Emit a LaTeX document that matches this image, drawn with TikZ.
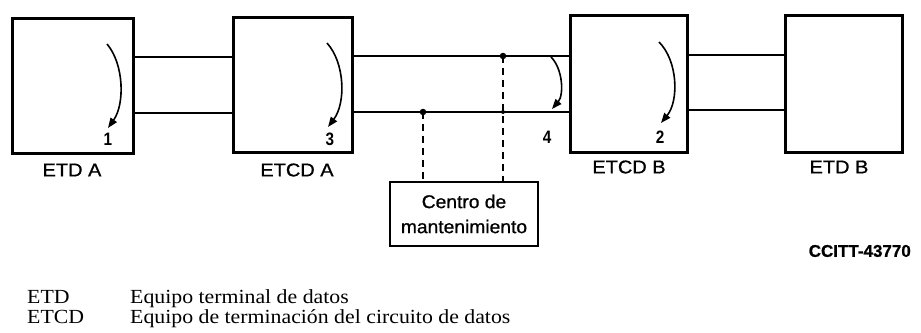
\documentclass[tikz,border=0pt]{standalone}
\usepackage{fontspec}
\setmainfont{Liberation Serif}
\newfontfamily\labfont[FakeBold=0.8]{Liberation Sans}
\newfontfamily\digfont{Liberation Sans}
\newfontfamily\legfont{Liberation Serif}
\usetikzlibrary{arrows.meta}
\newcommand{\widetext}[2]{\scalebox{#1}[1]{#2}}
\begin{document}
\begin{tikzpicture}[x=1pt,y=-1pt,
  unitbox/.style={draw, line width=3pt, inner sep=0pt, outer sep=0pt},
  wire/.style={line width=1.7pt},
  tap/.style={line width=1.4pt, dash pattern=on 7pt off 5pt},
  flow/.style={line width=1.6pt, -{Triangle[length=10pt,width=7.5pt]}},
  dotmark/.style={circle, fill=black, inner sep=0pt, minimum size=6.5pt},
  boxlabel/.style={font=\labfont\fontsize{18.5}{20}\selectfont, inner sep=0pt},
  digit/.style={font=\digfont\bfseries\fontsize{18}{19}\selectfont, inner sep=0pt},
  legend/.style={font=\legfont\fontsize{20}{21}\selectfont, inner sep=0pt, anchor=base west}]
\useasboundingbox (0,0) rectangle (921,332);

% boxes
\node[unitbox, minimum width=121pt, minimum height=135pt] (etda) at (72.5,85.5) {};
\node[unitbox, minimum width=119pt, minimum height=135pt] (etcda) at (292.5,84.5) {};
\node[unitbox, minimum width=117pt, minimum height=137pt] (etcdb) at (628.5,83.5) {};
\node[unitbox, minimum width=117pt, minimum height=137pt] (etdb) at (843.5,83.5) {};
\node[draw, line width=2.4pt, minimum width=148pt, minimum height=64pt, inner sep=0pt,
      align=center, font=\labfont\fontsize{18.5}{25}\selectfont] (centro) at (464,214)
      {\widetext{1.04}{Centro de}\\\widetext{1.04}{mantenimiento}};

% box labels
\node[boxlabel] (letda) at (72,170) {\widetext{1.08}{ETD A}};
\node[boxlabel] (letcda) at (297,170) {\widetext{1.08}{ETCD A}};
\node[boxlabel] (letcdb) at (629,167) {\widetext{1.08}{ETCD B}};
\node[boxlabel] (letdb) at (839,167) {\widetext{1.08}{ETD B}};

% wire levels
\coordinate (ya1) at (0,57);  \coordinate (ya2) at (0,113);
\coordinate (yb1) at (0,56);  \coordinate (yb2) at (0,112);
\coordinate (yc1) at (0,55);  \coordinate (yc2) at (0,110);

\draw[wire] (etda.east |- ya1) -- (etcda.west |- ya1);
\draw[wire] (etda.east |- ya2) -- (etcda.west |- ya2);
\draw[wire] (etcda.east |- yb1) -- (etcdb.west |- yb1);
\draw[wire] (etcda.east |- yb2) -- (etcdb.west |- yb2);
\draw[wire] (etcdb.east |- yc1) -- (etdb.west |- yc1);
\draw[wire] (etcdb.east |- yc2) -- (etdb.west |- yc2);

% taps to maintenance centre
\node[dotmark] (tapl) at (423,112) {};
\node[dotmark] (tapu) at (503,56) {};
\node[dotmark, minimum size=4pt] (tapx) at (503,112) {};
\draw[tap] (tapl.center) -- (tapl.center |- centro.north);
\draw[tap] (tapu.center) -- (tapu.center |- centro.north);

% loop arrows
\coordinate (a1s) at (107,44);  \coordinate (a1e) at (108,128);
\draw[flow] (a1s) .. controls (124,64) and (125,104) .. (a1e);
\coordinate (a3s) at (327,43);  \coordinate (a3e) at (328,127);
\draw[flow] (a3s) .. controls (345,63) and (346,103) .. (a3e);
\coordinate (a4s) at (551,57);  \coordinate (a4e) at (552,109);
\draw[flow] (a4s) .. controls (563,69) and (564,95) .. (a4e);
\coordinate (a2s) at (659,42);  \coordinate (a2e) at (661,123);
\draw[flow] (a2s) .. controls (678,61) and (679,101) .. (a2e);

\node[digit] (d1) at (108,139) {\widetext{0.85}{1}};
\node[digit] (d3) at (330,139) {\widetext{0.85}{3}};
\node[digit] (d4) at (547,137) {\widetext{0.85}{4}};
\node[digit] (d2) at (660,137) {\widetext{0.85}{2}};

\node[font=\labfont\bfseries\fontsize{17}{18}\selectfont, inner sep=0pt, anchor=east] (ref) at (911,251) {CCITT-43770};

% legend
\node[legend] (k1) at (27,303) {\widetext{1.09}{ETD}};
\node[legend] (v1) at (130,303) {\widetext{1.09}{Equipo terminal de datos}};
\node[legend] (k2) at (27,323.5) {\widetext{1.09}{ETCD}};
\node[legend] (v2) at (130,323.5) {\widetext{1.09}{Equipo de terminación del circuito de datos}};
\end{tikzpicture}
\end{document}
